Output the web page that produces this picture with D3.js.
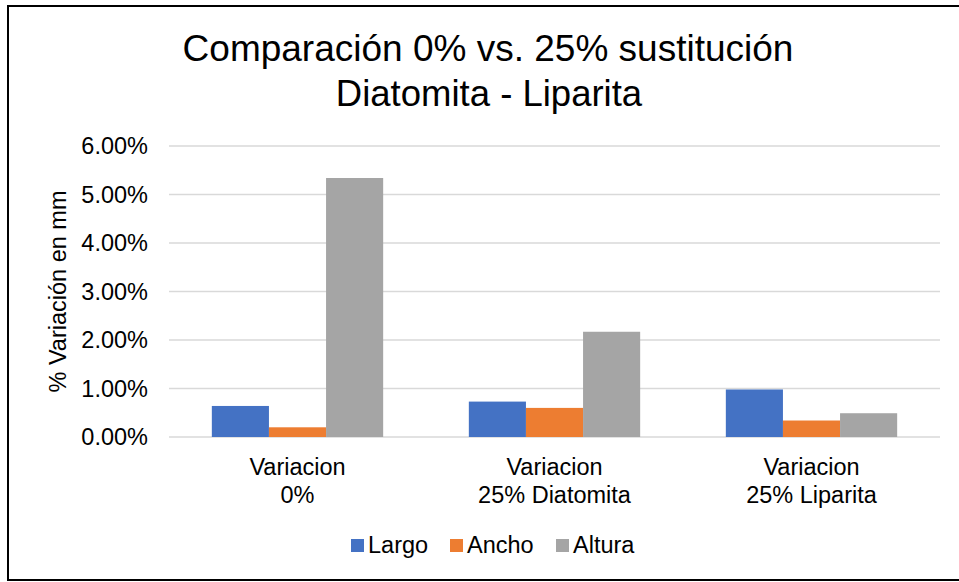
<!DOCTYPE html>
<html>
<head>
<meta charset="utf-8">
<script src="https://cdn.jsdelivr.net/npm/d3@7"></script>
<style>
  body { margin: 0; background: #fff; }
  svg { display: block; font-family: "Liberation Sans", Arial, sans-serif; }
</style>
</head>
<body>
<div id="chart"></div>
<script>
// Chart data
const categories = [["Variacion", "0%"], ["Variacion", "25% Diatomita"], ["Variacion", "25% Liparita"]];
const seriesNames = ["Largo", "Ancho", "Altura"];
const largo = [0.0064, 0.0073, 0.0098];
const ancho = [0.0020, 0.0060, 0.0034];
const altura = [0.0534, 0.0217, 0.0049];
const yTicks = [0, 0.01, 0.02, 0.03, 0.04, 0.05, 0.06];
const colors = ["#4472c4", "#ed7d31", "#a5a5a5"];

const svgWidth = 959;
const svgHeight = 582;
const margin = { top: 146, right: 19, bottom: 145, left: 169 };
const width = svgWidth - margin.left - margin.right;
const height = svgHeight - margin.top - margin.bottom;

const svg = d3.select("#chart")
    .append("svg")
    .attr("width", svgWidth)
    .attr("height", svgHeight);

// outer frame (right edge falls outside the picture)
svg.append("rect")
    .attr("x", 8).attr("y", 6)
    .attr("width", 960).attr("height", 574)
    .attr("fill", "none")
    .attr("stroke", "#000")
    .attr("stroke-width", 2);

// title
const title = svg.append("text")
    .attr("text-anchor", "middle")
    .attr("font-size", 36.5)
    .attr("fill", "#000");
title.append("tspan").attr("x", 488).attr("y", 61).attr("font-size", 37).text("Comparación 0% vs. 25% sustitución");
title.append("tspan").attr("x", 489).attr("y", 106).text("Diatomita - Liparita");

const g = svg.append("g")
    .attr("transform", `translate(${margin.left},${margin.top})`);

const catKeys = categories.map((d, i) => i);
const x0 = d3.scaleBand()
    .domain(catKeys)
    .range([0, width]);

// gap width 150% of a bar
const barW = x0.bandwidth() / 4.5;
const x1 = d3.scaleBand()
    .domain(seriesNames)
    .range([barW * 0.75, barW * 3.75]);

const y = d3.scaleLinear()
    .domain([0, 0.06])
    .range([height, 0]);

// gridlines
g.append("g")
    .selectAll("line")
    .data(yTicks)
    .enter().append("line")
    .attr("x1", 0).attr("x2", width)
    .attr("y1", d => y(d)).attr("y2", d => y(d))
    .attr("stroke", "#d9d9d9")
    .attr("stroke-width", 1.5);

// y axis labels
const yAxis = g.append("g")
    .call(d3.axisLeft(y).tickValues(yTicks).tickFormat(d3.format(".2%")).tickSize(0).tickPadding(21));
yAxis.select(".domain").remove();
yAxis.selectAll("text")
    .attr("font-size", 23.5)
    .attr("font-family", "Liberation Sans, Arial, sans-serif")
    .attr("fill", "#000");

// bars
const seriesData = [largo, ancho, altura];
const groups = g.selectAll(".group")
    .data(catKeys)
    .enter().append("g")
    .attr("class", "group")
    .attr("transform", d => `translate(${x0(d)},0)`);

groups.selectAll("rect")
    .data(i => seriesNames.map((s, k) => ({ s, k, v: seriesData[k][i] })))
    .enter().append("rect")
    .attr("x", d => x1(d.s))
    .attr("y", d => y(d.v))
    .attr("width", x1.bandwidth())
    .attr("height", d => height - y(d.v))
    .attr("fill", d => colors[d.k]);

// x axis labels (two lines)
const xAxis = g.append("g")
    .attr("transform", `translate(0,${height})`)
    .call(d3.axisBottom(x0).tickSize(0).tickFormat(""));
xAxis.select(".domain").remove();
xAxis.selectAll(".tick text").remove();
xAxis.selectAll(".tick")
    .append("text")
    .attr("text-anchor", "middle")
    .attr("font-size", 23.5)
    .attr("fill", "#000")
    .each(function(d) {
        const t = d3.select(this);
        categories[d].forEach((line, j) => {
            t.append("tspan").attr("x", 0).attr("y", 38 + j * 28).text(line);
        });
    });

// y axis title
svg.append("text")
    .attr("transform", `translate(66,${margin.top + height / 2}) rotate(-90)`)
    .attr("text-anchor", "middle")
    .attr("font-size", 23.5)
    .attr("fill", "#000")
    .text("% Variación en mm");

// legend
const legendX = [351, 450, 556];
const legend = svg.append("g");
seriesNames.forEach((name, i) => {
    legend.append("rect")
        .attr("x", legendX[i]).attr("y", 539)
        .attr("width", 13).attr("height", 13)
        .attr("fill", colors[i]);
    legend.append("text")
        .attr("x", legendX[i] + 17).attr("y", 553)
        .attr("font-size", 23.5)
        .attr("fill", "#000")
        .text(name);
});
</script>
</body>
</html>
